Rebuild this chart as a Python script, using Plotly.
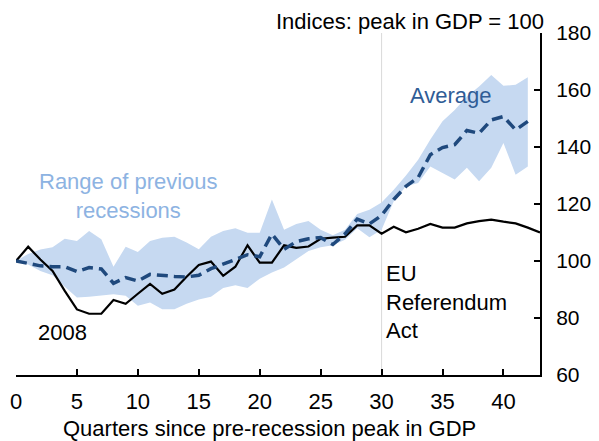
import plotly.graph_objects as go

quarters = list(range(0, 44))

uk_2008 = [100, 105, 100.5, 96.5, 89.5, 83, 81.5, 81.5, 86.3, 85,
           88.5, 92, 88.5, 90, 94.5, 98.6, 99.8, 94.8, 98, 105.5,
           99.4, 99.4, 105.5, 104.6, 105.1, 107.8, 108.2, 108.5, 112.5, 112.5,
           109.6, 112, 110.1, 111.3, 113, 111.7, 111.7, 113.2, 114, 114.5,
           113.8, 113.2, 111.7, 110]

avg_quarters = list(range(0, 43))
average = [100, 99, 98.3, 98, 98, 96.3, 97.7, 97.2, 92.2, 94.2,
           93, 95.3, 94.8, 94.6, 94.4, 95, 97.3, 98.8, 100.5, 102.2,
           101.5, 109.5, 104.1, 106.8, 107.8, 108.2, 105.8, 109.5, 114.7, 113,
           116, 121.6, 126.2, 129.3, 137.3, 139.8, 140.8, 145.8, 144.8, 149.5,
           150.7, 146, 149]

range_upper = [100, 102.5, 104, 104.8, 107.8, 107, 110.5, 107.6, 98, 105,
               103.2, 107, 108.2, 108.5, 106.5, 104.1, 108.5, 110.5, 111.5, 109.9,
               109.9, 121.6, 111, 113, 114, 111, 109, 111, 116.5, 118,
               120.5, 125, 130, 135.5, 142.6, 149, 153, 157.7, 161.2, 165.3,
               161.5, 161.8, 164.5]

range_lower = [100, 98.8, 96.5, 95, 91, 87.2, 87.5, 87.8, 88.3, 87.8,
               84.3, 85.4, 83.1, 83.1, 85, 86.5, 87.5, 90.5, 91.5, 90.5,
               93.8, 96, 97.7, 100.6, 103.5, 104.8, 105.5, 107.5, 111.5, 108.3,
               111, 121, 126.2, 127.4, 133.2, 130.9, 128.6, 132.7, 128, 132.7,
               141.4, 130.3, 133.2]

x_ticks = [0, 5, 10, 15, 20, 25, 30, 35, 40]
y_ticks = [60, 80, 100, 120, 140, 160, 180]

FONT = "Arial, Liberation Sans, sans-serif"
FS = 22
BAND = "#c6d9f1"
DARK = "#1f497d"

fig = go.Figure()
fig.add_trace(go.Scatter(x=avg_quarters, y=range_lower, mode="lines",
                         line=dict(width=0, color=BAND), hoverinfo="skip",
                         showlegend=False))
fig.add_trace(go.Scatter(x=avg_quarters, y=range_upper, mode="lines",
                         line=dict(width=0, color=BAND), fill="tonexty",
                         fillcolor=BAND, showlegend=False))
fig.add_trace(go.Scatter(x=quarters, y=uk_2008, mode="lines",
                         line=dict(color="black", width=2.2), showlegend=False))
fig.add_trace(go.Scatter(x=avg_quarters, y=average, mode="lines",
                         line=dict(color=DARK, width=3.5, dash="11px,6px"),
                         showlegend=False))

fig.add_shape(type="line", x0=30, x1=30, y0=0, y1=1, xref="x", yref="paper",
              line=dict(color="#d9d9d9", width=1), layer="below")

fig.add_annotation(x=9.2, y=122.7, text="Range of previous<br>recessions",
                   font=dict(family=FONT, size=FS, color="#8db3e2"),
                   showarrow=False, xanchor="center", yanchor="middle")
fig.add_annotation(x=35.7, y=158, text="Average",
                   font=dict(family=FONT, size=FS, color="#2f5c96"),
                   showarrow=False, xanchor="center", yanchor="middle")
fig.add_annotation(x=3.8, y=75, text="2008",
                   font=dict(family=FONT, size=FS, color="black"),
                   showarrow=False, xanchor="center", yanchor="middle")
fig.add_annotation(x=30.2, y=85.5, text="EU<br>Referendum<br>Act",
                   font=dict(family=FONT, size=FS, color="black"),
                   showarrow=False, xanchor="left", yanchor="middle", align="left")
fig.add_annotation(x=1.0, y=1.0, xref="paper", yref="paper",
                   text="Indices: peak in GDP = 100",
                   font=dict(family=FONT, size=FS, color="black"),
                   showarrow=False, xanchor="right", yanchor="middle",
                   xshift=6, yshift=11.5)
# x-axis title, sitting slightly left of the plot centre as in the original
fig.add_annotation(x=20.8, y=0, xref="x", yref="paper",
                   text="Quarters since pre-recession peak in GDP",
                   font=dict(family=FONT, size=FS, color="black"),
                   showarrow=False, xanchor="center", yanchor="middle",
                   yshift=-53)

# the page body adds an 8px offset, so the figure is 8px smaller each way
fig.update_layout(
    width=591, height=433,
    margin=dict(l=8, r=59, t=25, b=66),
    plot_bgcolor="white", paper_bgcolor="white",
    font=dict(family=FONT, size=FS, color="black"),
    xaxis=dict(range=[0, 43], tickvals=x_ticks, ticks="inside", ticklen=6,
               tickwidth=2, tickcolor="black", showline=True, linecolor="black",
               linewidth=2, showgrid=False, zeroline=False, automargin=False,
               ticklabelstandoff=6),
    yaxis=dict(range=[60, 180], tickvals=y_ticks, side="right", ticks="inside",
               ticklen=6, tickwidth=2, tickcolor="black", showline=True,
               linecolor="black", linewidth=2, showgrid=False, zeroline=False,
               automargin=False, ticklabelstandoff=10,
               tickfont=dict(family=FONT, size=21)),
)

fig.write_html("out.html")
